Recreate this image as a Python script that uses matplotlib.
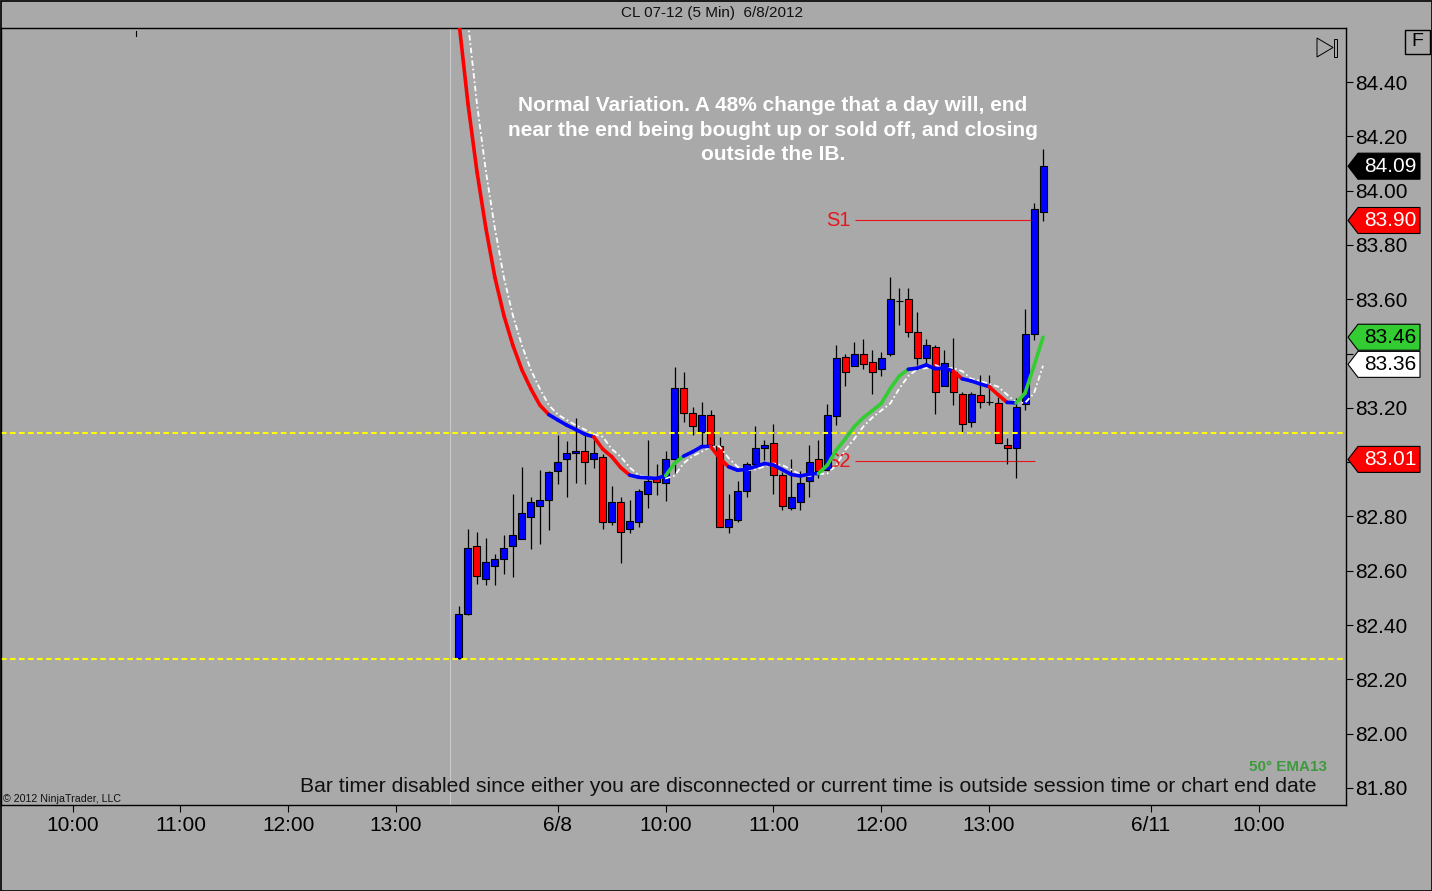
import matplotlib
matplotlib.use('Agg')
import matplotlib.pyplot as plt
from matplotlib.patches import Polygon, Rectangle
from matplotlib.transforms import IdentityTransform
from matplotlib.collections import LineCollection
from matplotlib.lines import Line2D

plt.rcParams['font.family'] = ['Liberation Sans', 'DejaVu Sans']
plt.rcParams['lines.scale_dashes'] = False

W, H = 1432, 891
BG = '#A9A9A9'

# ---------------- data ----------------
bar_index = list(range(66))
opens = [82.278, 82.44, 82.69, 82.571, 82.618, 82.642, 82.69, 82.718, 82.799, 82.84,
         82.859, 82.968, 83.01, 83.032, 83.041, 83.01, 83.02, 82.78, 82.852, 82.752,
         82.78, 82.881, 82.946, 82.922, 83.01, 83.272, 83.18, 83.11, 83.172, 83.059,
         82.76, 82.787, 82.894, 82.992, 83.051, 83.069, 82.952, 82.83, 82.852, 82.93,
         83.01, 82.971, 83.171, 83.388, 83.354, 83.40, 83.37, 83.342, 83.40, 83.593,
         83.60, 83.48, 83.382, 83.423, 83.281, 83.333, 83.25, 83.149, 83.247, 83.22,
         83.219, 83.063, 83.051, 83.214, 83.471, 83.92]
highs = [82.47, 82.754, 82.743, 82.722, 82.66, 82.731, 82.883, 82.981, 82.87, 82.971,
         82.968, 83.10, 83.079, 83.162, 83.10, 83.10, 83.03, 82.912, 82.873, 82.86,
         82.90, 83.081, 82.993, 83.042, 83.35, 83.331, 83.204, 83.221, 83.192, 83.091,
         82.881, 82.93, 83.0, 83.133, 83.081, 83.14, 82.965, 83.011, 82.968, 83.063,
         83.081, 83.214, 83.431, 83.40, 83.443, 83.453, 83.413, 83.407, 83.683, 83.64,
         83.64, 83.552, 83.453, 83.43, 83.413, 83.456, 83.26, 83.26, 83.32, 83.32,
         83.241, 83.088, 83.235, 83.563, 83.953, 84.152]
lows = [82.275, 82.437, 82.55, 82.547, 82.547, 82.588, 82.578, 82.718, 82.68, 82.698,
        82.75, 82.92, 82.87, 82.923, 82.92, 82.977, 82.752, 82.768, 82.63, 82.74,
        82.76, 82.83, 82.879, 82.858, 82.96, 83.147, 83.10, 83.063, 83.055, 82.76,
        82.74, 82.78, 82.87, 82.992, 83.008, 82.881, 82.824, 82.824, 82.824, 82.87,
        82.94, 82.97, 83.137, 83.28, 83.354, 83.342, 83.251, 83.318, 83.39, 83.505,
        83.462, 83.358, 83.36, 83.177, 83.28, 83.21, 83.106, 83.13, 83.20, 83.21,
        83.069, 82.993, 82.94, 83.192, 83.45, 83.889]
closes = [82.44, 82.684, 82.579, 82.631, 82.642, 82.684, 82.73, 82.811, 82.852, 82.86,
          82.964, 82.999, 83.032, 83.042, 82.999, 83.032, 82.78, 82.852, 82.741, 82.782,
          82.894, 82.93, 82.928, 83.011, 83.272, 83.18, 83.133, 83.172, 83.063, 82.76,
          82.79, 82.894, 82.992, 83.051, 83.062, 82.952, 82.84, 82.87, 82.922, 82.999,
          82.968, 83.173, 83.382, 83.331, 83.40, 83.361, 83.331, 83.382, 83.60, 83.593,
          83.48, 83.382, 83.431, 83.259, 83.364, 83.26, 83.14, 83.251, 83.22, 83.22,
          83.069, 83.051, 83.204, 83.471, 83.932, 84.09]
ema13 = [84.62, 84.32, 84.07, 83.86, 83.68, 83.54, 83.43, 83.34, 83.27, 83.21,
         83.175, 83.155, 83.136, 83.12, 83.103, 83.093, 83.048, 83.02, 82.98, 82.952,
         82.944, 82.942, 82.94, 82.95, 82.996, 83.022, 83.038, 83.057, 83.058, 83.015,
         82.983, 82.97, 82.973, 82.984, 82.995, 82.989, 82.972, 82.954, 82.949, 82.956,
         82.958, 82.989, 83.045, 83.086, 83.131, 83.164, 83.19, 83.216, 83.271, 83.317,
         83.342, 83.346, 83.358, 83.344, 83.347, 83.335, 83.307, 83.299, 83.288, 83.278,
         83.248, 83.22, 83.218, 83.254, 83.355, 83.46]
ib_levels = [83.107, 82.275]
s_levels = [83.890, 83.004]
s_names = ['S1', 'S2']
x_tick_pos = [-43, -31, -19, -7, 11, 23, 35, 47, 59, 77, 89]
x_tick_labels = ['10:00', '11:00', '12:00', '13:00', '6/8', '10:00', '11:00',
                 '12:00', '13:00', '6/11', '10:00']
y_ticks = [81.80, 82.00, 82.20, 82.40, 82.60, 82.80, 83.00, 83.20, 83.40,
           83.60, 83.80, 84.00, 84.20, 84.40]
hidden_y_labels = [83.00, 83.40]   # covered by the price markers in the reference
marker_values = [84.09, 83.89, 83.46, 83.36, 83.01]
marker_texts = ['84.09', '83.90', '83.46', '83.36', '83.01']
session_break = -1
note = ("Normal Variation. A 48% change that a day will, end\n"
        "near the end being bought up or sold off, and closing\n"
        "outside the IB.")

# ---------------- figure ----------------
fig = plt.figure(figsize=(W / 100, H / 100), dpi=100, facecolor=BG)
ax = fig.add_axes([1 / W, (H - 805) / H, 1345 / W, 777 / H], facecolor=BG)
ax.set_xlim(-50.97, 98.72)
ax.set_ylim(81.737, 84.599)

for s in ax.spines.values():
    s.set_color('black')
    s.set_linewidth(1.0)

# session break
ax.axvline(session_break, color='#C9C9C9', lw=0.8, zorder=1)

# S labels (under the candles)
for lvl, name in zip(s_levels, s_names):
    ax.hlines(lvl, 44.1, 64.1, color='#E8161C', lw=0.8, zorder=2)
    ax.text(42.2, lvl, name, color='#E8161C', fontsize=14.5, ha='center',
            va='center', zorder=2)

# candles
body_colors = []
for o, c in zip(opens, closes):
    if c > o:
        body_colors.append('#0000FF')
    elif c < o:
        body_colors.append('#FF0000')
    else:
        body_colors.append('black')
ax.vlines(bar_index, lows, highs, color='black', lw=0.9, zorder=3)
ax.bar(bar_index, [abs(c - o) for o, c in zip(opens, closes)],
       bottom=[min(o, c) for o, c in zip(opens, closes)], width=0.78,
       color=body_colors, edgecolor='black', linewidth=0.8, zorder=4)

# IB lines
for lvl in ib_levels:
    ax.axhline(lvl, color='#FFFF00', lw=1.5, ls=(0, (4, 2.5)), zorder=5)

# EMA shifted (white dash-dot)
ax.plot([i + 1 for i in bar_index[:-1]], ema13[:-1], color='white', lw=1.3,
        ls=(0, (4, 2, 1.2, 2)), zorder=6)

# EMA coloured by slope
segs, cols = [], []
for i in range(len(ema13) - 1):
    segs.append([(bar_index[i], ema13[i]), (bar_index[i + 1], ema13[i + 1])])
    d = ema13[i + 1] - ema13[i]
    if d > 0.0225:
        cols.append('#33CC33')
    elif d < -0.0225:
        cols.append('#FF0000')
    else:
        cols.append('#0000FF')
ax.add_collection(LineCollection(segs, colors=cols, linewidths=2.6,
                                 capstyle='round', joinstyle='round', zorder=7))

# axes ticks
ax.yaxis.tick_right()
ax.set_yticks(y_ticks)
ax.set_yticklabels(['' if any(abs(v - h) < 1e-6 for h in hidden_y_labels) else f'{v:.2f}'
                    for v in y_ticks])
ax.tick_params(axis='y', direction='out', length=5, width=0.8, pad=1.5,
               labelsize=15, colors='black')
ax.set_xticks(x_tick_pos)
ax.set_xticklabels(x_tick_labels)
ax.tick_params(axis='x', direction='out', length=5, width=0.8, pad=3,
               labelsize=15, colors='black')

fig.canvas.draw()


def dy(y_px):
    return H - y_px


# price markers on the right axis
marker_fill = ['black', '#FF0000', '#33CC33', 'white', '#FF0000']
marker_fg = ['white', 'white', 'black', 'black', 'white']
for val, txt, fc, tc in zip(marker_values, marker_texts, marker_fill, marker_fg):
    yc = ax.transData.transform((0, val))[1]
    hh = 13
    pts = [(1348, yc), (1358, yc + hh), (1420, yc + hh), (1420, yc - hh), (1358, yc - hh)]
    poly = Polygon(pts, closed=True, facecolor=fc, edgecolor='black', lw=0.8,
                   transform=IdentityTransform(), zorder=10)
    fig.add_artist(poly)
    fig.text(1390 / W, yc / H, txt, color=tc, fontsize=15, ha='center',
             va='center', zorder=11)

# "F" box
fig.add_artist(Rectangle((1405, dy(54)), 25, 24, facecolor='none', edgecolor='black',
                         lw=1, transform=IdentityTransform(), zorder=10))
fig.text(1417.5 / W, 1 - 42 / H, 'F', fontsize=14, ha='center', va='center')

# play-to-end icon
fig.add_artist(Polygon([(1317, dy(38)), (1333, dy(47.5)), (1317, dy(57))], closed=True,
                       facecolor='none', edgecolor='black', lw=0.7,
                       transform=IdentityTransform(), zorder=10))
fig.add_artist(Rectangle((1333.5, dy(57)), 3.5, 18, facecolor='none', edgecolor='black',
                         lw=0.7, transform=IdentityTransform(), zorder=10))

# tiny mark at top-left
fig.add_artist(Line2D([136, 136], [dy(31), dy(36)], color='black', lw=0.8,
                      transform=IdentityTransform()))

# texts
fig.text(712 / W, 1 - 13 / H, 'CL 07-12 (5 Min)  6/8/2012', fontsize=11,
         ha='center', va='center', color='#111111')
fig.text(773 / W, 1 - 130 / H, note, fontsize=15, fontweight='bold', color='white',
         ha='center', va='center', linespacing=1.37, zorder=8)
fig.text(1327 / W, 1 - 767 / H, '50\u00b0 EMA13', fontsize=11, fontweight='bold',
         color='#3D9B3D', ha='right', va='center')
fig.text(1316 / W, 1 - 786 / H,
         'Bar timer disabled since either you are disconnected or current time is '
         'outside session time or chart end date',
         fontsize=15.2, ha='right', va='center', color='#111111')
fig.text(3 / W, 1 - 799 / H, '\u00a9 2012 NinjaTrader, LLC', fontsize=7.7,
         ha='left', va='center', color='#111111')

# outer border
fig.add_artist(Rectangle((0.5, 0.5), W - 1, H - 1, facecolor='none', edgecolor='black',
                         lw=1.2, transform=IdentityTransform(), zorder=20))

fig.savefig('out.png', dpi=100, facecolor=BG)
